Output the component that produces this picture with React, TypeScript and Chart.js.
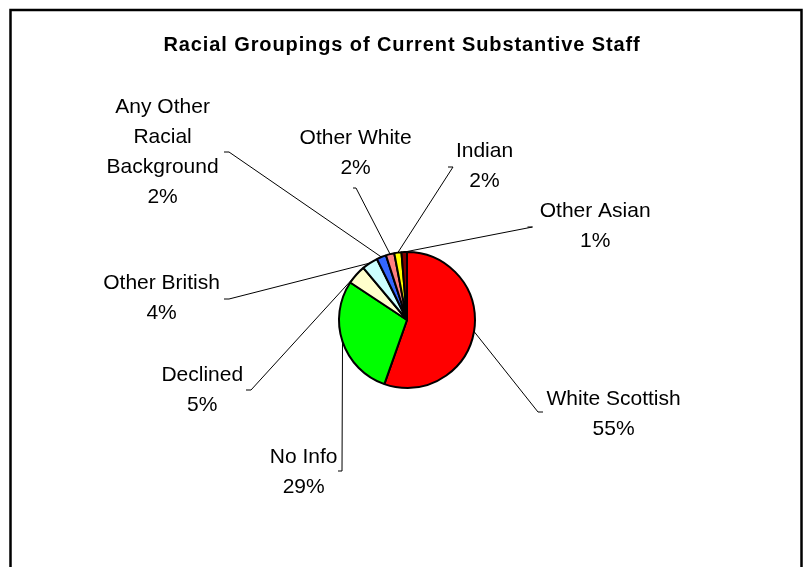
import React, { useEffect, useRef } from "react";
import { Chart, registerables } from "chart.js";

Chart.register(...registerables);

const TITLE = "Racial Groupings of Current Substantive Staff";
const categories = [
  "White Scottish",
  "No Info",
  "Declined",
  "Other British",
  "Any Other Racial Background",
  "Other White",
  "Indian",
  "Other Asian",
];
const values = [55.4, 28.9, 4.6, 3.8, 2.3, 2.0, 1.7, 1.3];
const colors = ["#FF0000", "#00FF00", "#FFFFCC", "#CCFFFF", "#3366FF", "#FF8080", "#FFFF00", "#800000"];
const labelLines = [
  ["White Scottish"],
  ["No Info"],
  ["Declined"],
  ["Other British"],
  ["Any Other", "Racial", "Background"],
  ["Other White"],
  ["Indian"],
  ["Other Asian"],
];
// layout: label text centre (first line) relative to the pie centre
const labelPos = [
  [206.6, 77],
  [-103.3, 135],
  [-204.7, 53.6],
  [-245.4, -38.3],
  [-244.4, -214.9],
  [-51.4, -183.2],
  [77.5, -170.6],
  [188.2, -110.4],
];
// layout: leader-line elbow relative to the pie centre, tick direction/length
const elbowPos = [
  [131, 92, 5],
  [-65, 151, -4],
  [-156, 70, -5],
  [-178, -21, -5],
  [-178, -168, -5],
  [-51, -132, -3],
  [46, -153, -5],
  [125.5, -93, -5],
];

const LABEL_FONT = '21px "Liberation Sans", Arial, sans-serif';
const TITLE_FONT = 'bold 20px "Liberation Sans", Arial, sans-serif';
const LINE_H = 30;

const overlay = {
  id: "overlay",
  afterDraw(chart: any) {
    const ctx = chart.ctx as CanvasRenderingContext2D;
    const total = values.reduce((a, b) => a + b, 0);
    ctx.save();
    // frame
    ctx.strokeStyle = "#000";
    ctx.lineWidth = 2.5;
    ctx.strokeRect(10.5, 10, 791, 600);
    // title
    ctx.fillStyle = "#000";
    ctx.font = TITLE_FONT;
    (ctx as any).letterSpacing = "0.9px";
    ctx.textAlign = "center";
    ctx.textBaseline = "alphabetic";
    ctx.fillText(TITLE, 402, 51);
    (ctx as any).letterSpacing = "0px";

    const meta = chart.getDatasetMeta(0);
    ctx.font = LABEL_FONT;
    meta.data.forEach((arc: any, i: number) => {
      const p = arc.getProps(["x", "y", "startAngle", "endAngle", "outerRadius"], true);
      const mid = (p.startAngle + p.endAngle) / 2;
      const ax = p.x + Math.cos(mid) * p.outerRadius;
      const ay = p.y + Math.sin(mid) * p.outerRadius;
      const [ex, ey, tick] = elbowPos[i];
      ctx.strokeStyle = "#000";
      ctx.lineWidth = 1;
      ctx.beginPath();
      ctx.moveTo(ax, ay);
      ctx.lineTo(p.x + ex, p.y + ey);
      ctx.lineTo(p.x + ex + tick, p.y + ey);
      ctx.stroke();

      const lines = [...labelLines[i], Math.round((values[i] / total) * 100) + "%"];
      const [lx, ly] = labelPos[i];
      ctx.fillStyle = "#000";
      ctx.textAlign = "center";
      ctx.textBaseline = "alphabetic";
      lines.forEach((t, k) => {
        ctx.fillText(t, p.x + lx, p.y + ly + k * LINE_H + 7.5);
      });
    });
    ctx.restore();
  },
};

export default function App() {
  const ref = useRef<HTMLCanvasElement | null>(null);
  useEffect(() => {
    if (!ref.current) return;
    const chart = new Chart(ref.current, {
      type: "pie",
      data: {
        labels: categories,
        datasets: [
          {
            data: values,
            backgroundColor: colors,
            borderColor: "#000000",
            borderWidth: 2,
          },
        ],
      },
      options: {
        animation: false,
        responsive: false,
        maintainAspectRatio: false,
        devicePixelRatio: 1,
        radius: 68,
        layout: { padding: { left: 4, right: 0, top: 73, bottom: 0 } },
        plugins: {
          legend: { display: false },
          title: { display: false },
          tooltip: { enabled: false },
        },
      } as any,
      plugins: [overlay],
    });
    return () => chart.destroy();
  }, []);
  return (
    <canvas
      ref={ref}
      width={810}
      height={567}
      style={{ position: "fixed", left: 0, top: 0, width: 810, height: 567, background: "#fff" }}
    />
  );
}
